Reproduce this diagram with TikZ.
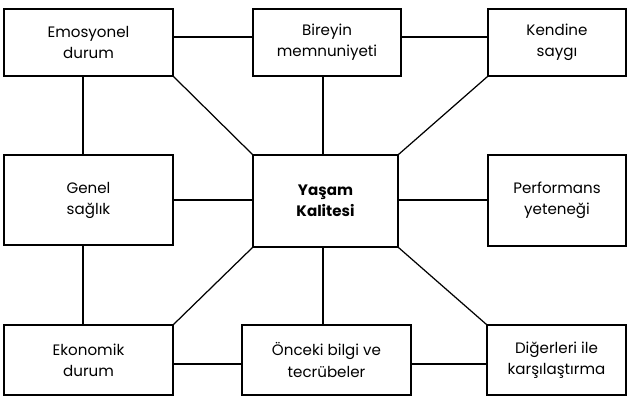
\documentclass[tikz,border=0pt]{standalone}
\usepackage{fontspec}
\setmainfont{Poppins}
\usepackage{tikz}

\begin{document}
\begin{tikzpicture}[x=0.02cm,y=-0.02cm,line width=0.7pt,
    every node/.style={draw,align=center,inner sep=0pt,font=\fontsize{8.6}{12}\selectfont,line width=0.7pt}]
    \useasboundingbox (0,0) rectangle (629,397);
    \node[minimum width=3.38cm,minimum height=1.34cm] (emo) at (88.5,42.5) {Emosyonel\\durum};
    \node[minimum width=2.96cm,minimum height=1.34cm] (bir) at (327,42.5) {Bireyin\\memnuniyeti};
    \node[minimum width=2.76cm,minimum height=1.34cm] (ken) at (557,42.5) {Kendine\\saygı};
    \node[minimum width=3.38cm,minimum height=1.80cm] (gen) at (88.5,200) {Genel\\sağlık};
    \node[minimum width=2.90cm,minimum height=1.84cm,font=\fontsize{8.6}{12}\selectfont\bfseries] (ys) at (325.5,201) {Yaşam\\Kalitesi};
    \node[minimum width=2.76cm,minimum height=1.82cm] (per) at (557,200.5) {Performans\\yeteneği};
    \node[minimum width=3.38cm,minimum height=1.40cm] (eko) at (88.5,360) {Ekonomik\\durum};
    \node[minimum width=3.38cm,minimum height=1.40cm] (onc) at (326.5,360) {Önceki bilgi ve\\tecrübeler};
    \node[minimum width=2.78cm,minimum height=1.40cm] (dig) at (556.5,360) {Diğerleri ile\\karşılaştırma};
    % top row
    \draw ([yshift=0.11cm]emo.east) -- ([yshift=0.11cm]bir.west);
    \draw ([yshift=0.11cm]bir.east) -- ([yshift=0.11cm]ken.west);
    \draw ([xshift=-0.11cm]emo.south) -- ([xshift=-0.11cm]gen.north);
    \draw (emo.south east) -- (ys.north west);
    \draw ([xshift=-0.08cm]bir.south) -- ([xshift=-0.08cm]bir.south |- ys.north);
    \draw (ken.south west) -- (ys.north east);
    % middle row
    \draw (gen.east) -- (gen.east -| ys.west);
    \draw (gen.east -| ys.east) -- (gen.east -| per.west);
    % bottom row
    \draw ([xshift=-0.11cm]gen.south) -- ([xshift=-0.11cm]eko.north);
    \draw (ys.south west) -- (eko.north east);
    \draw ([xshift=-0.05cm]ys.south) -- ([xshift=-0.05cm]ys.south |- onc.north);
    \draw (ys.south east) -- (dig.north west);
    \draw ([yshift=-0.08cm]eko.east) -- ([yshift=-0.08cm]onc.west);
    \draw ([yshift=-0.08cm]onc.east) -- ([yshift=-0.08cm]dig.west);
  \end{tikzpicture}
\end{document}
